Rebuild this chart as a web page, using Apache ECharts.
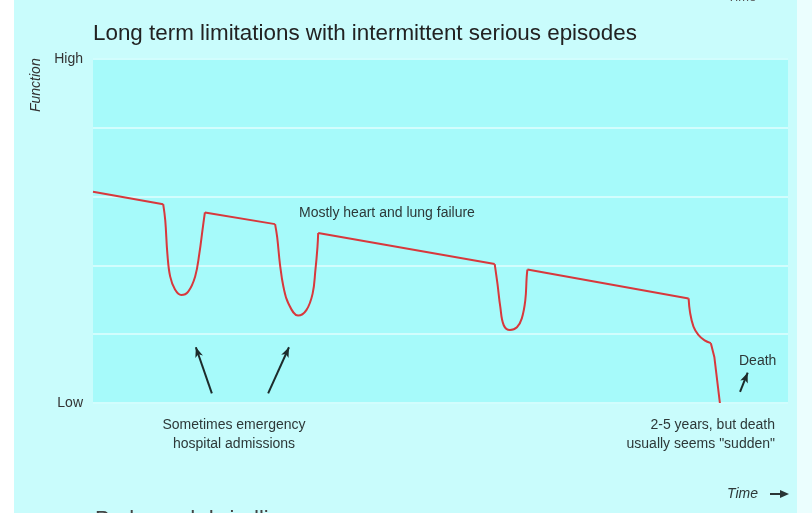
<!DOCTYPE html>
<html>
<head>
<meta charset="utf-8">
<script src="https://cdn.jsdelivr.net/npm/echarts@6/dist/echarts.min.js"></script>
<style>
  html, body { margin: 0; padding: 0; background: #ffffff; }
  #chart { width: 812px; height: 513px; }
</style>
</head>
<body>
<div id="chart"></div>
<script>
  // function over time (0 = low, 5 = high)
  var timeX = [0, 10.1, 10.4, 10.7, 11.1, 11.8, 12.7, 13.7, 14.7, 15.3, 15.8, 16.1,
    26.2, 26.5, 26.9, 27.4, 28.1, 29.5, 30.7, 31.6, 32.0, 32.3, 32.4,
    57.8, 58.2, 58.6, 59.1, 60.0, 61.0, 61.7, 62.2, 62.4, 62.5,
    85.7, 85.9, 86.4, 87.1, 88.0, 88.9, 89.4, 90.2];
  var functionY = [3.07, 2.89, 2.65, 2.17, 1.84, 1.65, 1.57, 1.62, 1.84, 2.17, 2.55, 2.77,
    2.60, 2.41, 2.02, 1.69, 1.45, 1.27, 1.35, 1.59, 1.93, 2.27, 2.47,
    2.02, 1.73, 1.40, 1.13, 1.06, 1.10, 1.23, 1.49, 1.83, 1.94,
    1.52, 1.32, 1.11, 0.99, 0.91, 0.87, 0.67, 0];
  // index ranges of the rounded parts (episodes and the final knee)
  var curvedRuns = [[1, 11], [12, 22], [23, 32], [33, 38]];
  var yTickNames = { 0: 'Low', 5: 'High' };
  // annotation arrows [from, to] in data units
  var arrows = [
    [[17.1, 0.14], [14.8, 0.81]],
    [[25.2, 0.14], [28.2, 0.81]],
    [[93.1, 0.16], [94.2, 0.44]]
  ];

  var font = '"Liberation Sans", Arial, sans-serif';
  var lineColor = '#d8383c';
  var textColor = '#2d3838';

  function pts(a, b) {
    var out = [];
    for (var i = a; i <= b; i++) out.push([timeX[i], functionY[i]]);
    return out;
  }

  // straight stretches between the rounded runs
  var straightRuns = [];
  var start = 0;
  curvedRuns.forEach(function (r) {
    straightRuns.push([start, r[0]]);
    start = r[1];
  });
  straightRuns.push([start, timeX.length - 1]);

  var series = [];
  straightRuns.forEach(function (r) {
    series.push({
      type: 'line', data: pts(r[0], r[1]), symbol: 'none',
      lineStyle: { color: lineColor, width: 2 }
    });
  });
  curvedRuns.forEach(function (r) {
    series.push({
      type: 'line', data: pts(r[0], r[1]), symbol: 'none', smooth: 0.4,
      lineStyle: { color: lineColor, width: 2 }
    });
  });
  series.push({
    type: 'line', data: [], symbol: 'none',
    markLine: {
      silent: true,
      symbol: ['none', 'arrow'],
      symbolSize: [6, 10],
      label: { show: false },
      lineStyle: { color: '#1d2b2b', width: 2, type: 'solid' },
      data: arrows.map(function (a) {
        return [{ coord: a[0] }, { coord: a[1] }];
      })
    }
  });

  var myChart = echarts.init(document.getElementById('chart'));
  var option = {
    backgroundColor: '#c9fcfc',
    animation: false,
    title: {
      text: 'Long term limitations with intermittent serious episodes',
      left: 88,
      top: 18,
      textStyle: { fontFamily: font, fontSize: 22.4, fontWeight: 'normal', color: '#222' }
    },
    grid: {
      left: 93, right: 24, top: 59, bottom: 110,
      show: true, backgroundColor: '#a6fafa', borderWidth: 0
    },
    xAxis: {
      type: 'value', min: 0, max: 100,
      axisLine: { show: false }, axisTick: { show: false },
      axisLabel: { show: false }, splitLine: { show: false }
    },
    yAxis: {
      type: 'value', min: 0, max: 5, interval: 1,
      axisLine: { show: false }, axisTick: { show: false },
      splitLine: { show: true, lineStyle: { color: '#d2fdfd', width: 2 } },
      axisLabel: {
        margin: 10,
        fontFamily: font, fontSize: 14, color: '#333',
        formatter: function (v) { return yTickNames[v] || ''; }
      }
    },
    series: series,
    graphic: [
      { type: 'rect', left: 0, top: 0, shape: { width: 14, height: 513 }, style: { fill: '#ffffff' }, silent: true },
      { type: 'rect', left: 797, top: 0, shape: { width: 15, height: 513 }, style: { fill: '#ebfefe' }, silent: true },
      { type: 'text', left: 728, top: -9, style: { text: 'Time', font: 'italic 13px ' + font, fill: '#555' } },
      { type: 'text', x: 36, y: 112, rotation: Math.PI / 2, style: { text: 'Function', font: 'italic 14px ' + font, fill: '#333', textAlign: 'left', textVerticalAlign: 'middle' } },
      { type: 'text', x: 299, y: 213, style: { text: 'Mostly heart and lung failure', font: '14px ' + font, fill: textColor, textVerticalAlign: 'middle' } },
      { type: 'text', x: 234, y: 416, style: { text: 'Sometimes emergency\nhospital admissions', font: '14px ' + font, fill: textColor, textAlign: 'center', textVerticalAlign: 'top', lineHeight: 19 } },
      { type: 'text', x: 739, y: 361, style: { text: 'Death', font: '14px ' + font, fill: textColor, textVerticalAlign: 'middle' } },
      { type: 'text', x: 775, y: 416, style: { text: '2-5 years, but death\nusually seems "sudden"', font: '14px ' + font, fill: textColor, textAlign: 'right', textVerticalAlign: 'top', lineHeight: 19 } },
      { type: 'text', x: 727, y: 494, style: { text: 'Time', font: 'italic 14px ' + font, fill: textColor, textVerticalAlign: 'middle' } },
      { type: 'line', shape: { x1: 770, y1: 494, x2: 786, y2: 494 }, style: { stroke: '#2a3535', lineWidth: 2 } },
      { type: 'polygon', shape: { points: [[789, 494], [780, 490], [780, 498]] }, style: { fill: '#2a3535' } },
      { type: 'text', x: 95, y: 509, style: { text: 'Prolonged dwindling', font: '22px ' + font, fill: '#444' } }
    ]
  };
  myChart.setOption(option);
</script>
</body>
</html>
